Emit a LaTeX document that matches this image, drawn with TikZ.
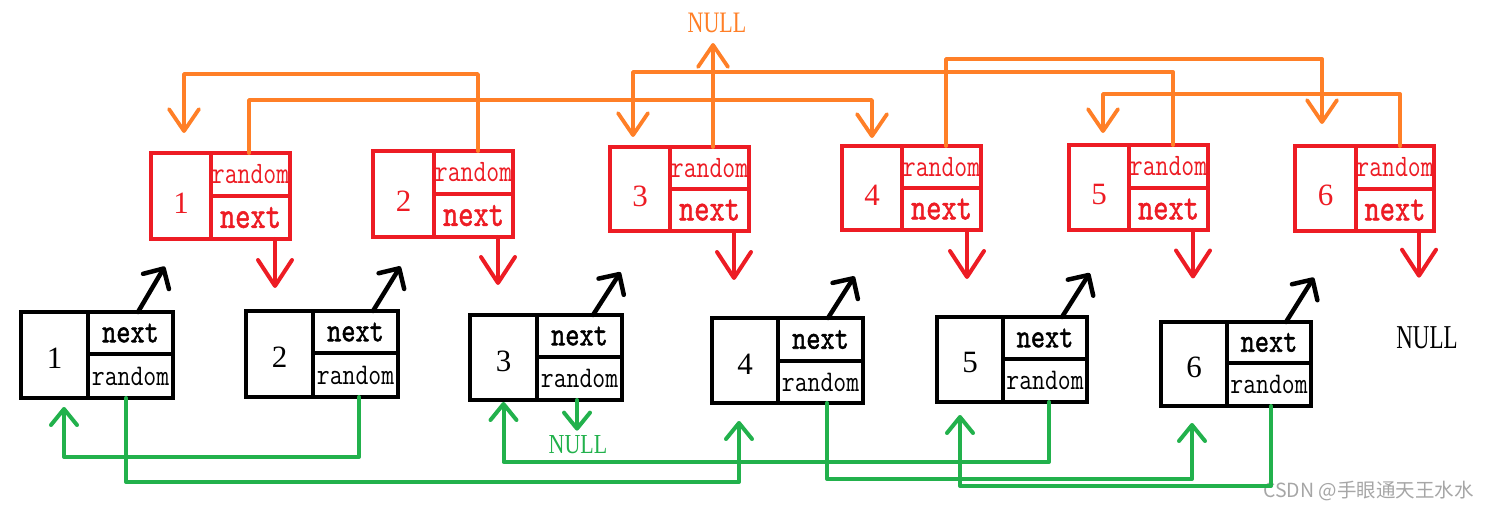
\documentclass[tikz,border=0pt]{standalone}
\usepackage{fontspec}
\usepackage{graphicx}
\usetikzlibrary{arrows.meta}
\newfontfamily\cjkfont{Noto Sans CJK SC}
\newfontfamily\digfont{Liberation Serif}
\newfontfamily\nxfont{lmmono10-regular}[Extension=.otf,FakeBold=1.5]
\definecolor{pred}{RGB}{237,28,36}
\definecolor{porange}{RGB}{255,127,39}
\definecolor{pgreen}{RGB}{34,177,76}
\begin{document}
\begin{tikzpicture}[x=1pt,y=-1pt,
  cell/.style={line width=4.2pt, inner sep=0pt, outer sep=0pt},
  rcell/.style={cell, draw=pred, text=pred},
  bcell/.style={cell, draw=black, text=black},
  rval/.style={font=\digfont\fontsize{31}{31}\selectfont, text height=35pt, text depth=0pt},
  bval/.style={font=\digfont\fontsize{31}{31}\selectfont, text height=27pt, text depth=0pt},
  rndtxt/.style={font=\ttfamily\fontsize{25}{25}\selectfont},
  rnxt/.style={font=\nxfont\fontsize{29}{29}\selectfont},
  bnxt/.style={font=\nxfont\fontsize{27}{27}\selectfont},
  nulltxt/.style={inner sep=0pt, font=\digfont\fontsize{22}{22}\selectfont},
  rarrow/.style={draw=pred, line width=4pt, line cap=round, line join=round, -{Straight Barb[length=26pt,width=34pt,round]}},
  oarrow/.style={draw=porange, line width=3.8pt, line cap=round, line join=round, -{Straight Barb[length=22pt,width=30pt,round]}},
  garrow/.style={draw=pgreen, line width=4pt, line cap=round, line join=round, -{Straight Barb[length=16pt,width=26pt,round]}},
  karrow/.style={draw=black, line width=4.5pt, line cap=round, line join=round, -{Straight Barb[length=15pt,width=30pt,round]}}
]
\useasboundingbox (0,0) rectangle (1488,510);

% ---------- red (copied) nodes ----------
\node[rcell,rval,minimum width=60pt,minimum height=86pt] (r1v) at (181,196) {1};
\node[rcell,rndtxt,minimum width=79pt,minimum height=43pt] (r1r) at (250.5,174.5) {\scalebox{1}[1.25]{random}};
\node[rcell,rnxt,minimum width=79pt,minimum height=43pt] (r1n) at (250.5,217.5) {\scalebox{1}[1.3]{next}};

\node[rcell,rval,minimum width=61pt,minimum height=86pt] (r2v) at (403.5,194) {2};
\node[rcell,rndtxt,minimum width=79pt,minimum height=43pt] (r2r) at (473.5,172.5) {\scalebox{1}[1.25]{random}};
\node[rcell,rnxt,minimum width=79pt,minimum height=43pt] (r2n) at (473.5,215.5) {\scalebox{1}[1.3]{next}};

\node[rcell,rval,minimum width=60pt,minimum height=84pt] (r3v) at (640,189) {3};
\node[rcell,rndtxt,minimum width=79pt,minimum height=42pt] (r3r) at (709.5,168) {\scalebox{1}[1.25]{random}};
\node[rcell,rnxt,minimum width=79pt,minimum height=42pt] (r3n) at (709.5,210) {\scalebox{1}[1.3]{next}};

\node[rcell,rval,minimum width=60pt,minimum height=84pt] (r4v) at (872,188) {4};
\node[rcell,rndtxt,minimum width=79pt,minimum height=42pt] (r4r) at (941.5,167) {\scalebox{1}[1.25]{random}};
\node[rcell,rnxt,minimum width=79pt,minimum height=42pt] (r4n) at (941.5,209) {\scalebox{1}[1.3]{next}};

\node[rcell,rval,minimum width=60pt,minimum height=85pt] (r5v) at (1099,187.5) {5};
\node[rcell,rndtxt,minimum width=79pt,minimum height=43pt] (r5r) at (1168.5,166.5) {\scalebox{1}[1.25]{random}};
\node[rcell,rnxt,minimum width=79pt,minimum height=42pt] (r5n) at (1168.5,209) {\scalebox{1}[1.3]{next}};

\node[rcell,rval,minimum width=61pt,minimum height=85pt] (r6v) at (1325.5,188.5) {6};
\node[rcell,rndtxt,minimum width=78pt,minimum height=43pt] (r6r) at (1395,167.5) {\scalebox{1}[1.25]{random}};
\node[rcell,rnxt,minimum width=78pt,minimum height=42pt] (r6n) at (1395,210) {\scalebox{1}[1.3]{next}};

% ---------- black (original) nodes ----------
\node[bcell,bval,minimum width=67pt,minimum height=86pt] (b1v) at (54.5,355) {1};
\node[bcell,bnxt,minimum width=85pt,minimum height=42pt] (b1n) at (130.5,333) {\scalebox{1}[1.25]{next}};
\node[bcell,rndtxt,minimum width=85pt,minimum height=44pt] (b1r) at (130.5,376) {\scalebox{1}[1.2]{random}};

\node[bcell,bval,minimum width=67pt,minimum height=86pt] (b2v) at (279.5,354) {2};
\node[bcell,bnxt,minimum width=85pt,minimum height=42pt] (b2n) at (355.5,332) {\scalebox{1}[1.25]{next}};
\node[bcell,rndtxt,minimum width=85pt,minimum height=44pt] (b2r) at (355.5,375) {\scalebox{1}[1.2]{random}};

\node[bcell,bval,minimum width=67pt,minimum height=85pt] (b3v) at (503.5,357.5) {3};
\node[bcell,bnxt,minimum width=85pt,minimum height=42pt] (b3n) at (579.5,336) {\scalebox{1}[1.25]{next}};
\node[bcell,rndtxt,minimum width=85pt,minimum height=43pt] (b3r) at (579.5,378.5) {\scalebox{1}[1.2]{random}};

\node[bcell,bval,minimum width=66pt,minimum height=85pt] (b4v) at (745,360.5) {4};
\node[bcell,bnxt,minimum width=85pt,minimum height=43pt] (b4n) at (820.5,339.5) {\scalebox{1}[1.25]{next}};
\node[bcell,rndtxt,minimum width=85pt,minimum height=42pt] (b4r) at (820.5,382) {\scalebox{1}[1.2]{random}};

\node[bcell,bval,minimum width=66pt,minimum height=85pt] (b5v) at (970,359.5) {5};
\node[bcell,bnxt,minimum width=84pt,minimum height=42pt] (b5n) at (1045,338) {\scalebox{1}[1.25]{next}};
\node[bcell,rndtxt,minimum width=84pt,minimum height=43pt] (b5r) at (1045,380.5) {\scalebox{1}[1.2]{random}};

\node[bcell,bval,minimum width=66pt,minimum height=84pt] (b6v) at (1194,364) {6};
\node[bcell,bnxt,minimum width=84pt,minimum height=41pt] (b6n) at (1269,342.5) {\scalebox{1}[1.25]{next}};
\node[bcell,rndtxt,minimum width=84pt,minimum height=43pt] (b6r) at (1269,384.5) {\scalebox{1}[1.2]{random}};

% ---------- NULL labels and watermark ----------
\node[nulltxt,text=porange] (onull) at (717,23) {\scalebox{1}[1.35]{NULL}};
\node[nulltxt,text=pgreen] (gnull) at (578,445) {\scalebox{1}[1.25]{NULL}};
\node[nulltxt,text=black,font=\digfont\fontsize{23}{23}\selectfont] (bnull) at (1427,338) {\scalebox{1}[1.45]{NULL}};
\node[inner sep=0pt,anchor=east,text=black!35,font=\cjkfont\fontsize{19.5}{19.5}\selectfont] (wm) at (1474,491) {CSDN @手眼通天王水水};

% ---------- red next pointers of the copies ----------
\coordinate (rn1) at ([xshift=24.5pt]r1n.south);
\coordinate (rn2) at ([xshift=24.5pt]r2n.south);
\coordinate (rn3) at ([xshift=24.5pt]r3n.south);
\coordinate (rn4) at ([xshift=25.5pt]r4n.south);
\coordinate (rn5) at ([xshift=24.5pt]r5n.south);
\coordinate (rn6) at ([xshift=24pt]r6n.south);
\draw[rarrow, shorten >=23pt] (rn1) -- (rn1 |- b2n.north);
\draw[rarrow, shorten >=30pt] (rn2) -- (rn2 |- b3n.north);
\draw[rarrow, shorten >=38pt] (rn3) -- (rn3 |- b4n.north);
\draw[rarrow, shorten >=38pt] (rn4) -- (rn4 |- b5n.north);
\draw[rarrow, shorten >=43.5pt] (rn5) -- (rn5 |- b6n.north);
\draw[rarrow, shorten >=49pt] (rn6) -- (rn6 |- bnull.north);

% ---------- black next pointers of the originals ----------
\draw[karrow, shorten >=32pt] ([xshift=7.5pt]b1n.north) -- (r1v.south);
\draw[karrow, shorten >=34.5pt] ([xshift=17.5pt]b2n.north) -- ([xshift=15pt]r2v.south);
\draw[karrow, shorten >=49pt] ([xshift=13.5pt]b3n.north) -- ([xshift=7pt]r3v.south);
\draw[karrow, shorten >=55pt] ([xshift=7.5pt]b4n.north) -- ([xshift=12pt]r4v.south);
\draw[karrow, shorten >=51pt] ([xshift=17pt]b5n.north) -- ([xshift=18pt]r5v.south);
\draw[karrow, shorten >=55pt] ([xshift=17pt]b6n.north) -- ([xshift=17.5pt]r6v.south);

% ---------- orange random pointers of the copies ----------
\draw[oarrow, shorten >=8pt] ([xshift=-1.5pt]r1r.north) -- ++(0,-53) -| (r4v.north);
\draw[oarrow, shorten >=20pt] ([xshift=4.5pt]r2r.north) -- ++(0,-77) -| ([xshift=3pt]r1v.north);
\coordinate (or3) at ([xshift=3.5pt]r3r.north);
\draw[oarrow, shorten >=10pt] (or3) -- (or3 |- onull.south);
\draw[oarrow, shorten >=22pt] ([xshift=4.5pt]r4r.north) -- ++(0,-87) -| ([xshift=-3.5pt]r6v.north);
\draw[oarrow, shorten >=10pt] ([xshift=4.5pt]r5r.north) -- ++(0,-73) -| ([xshift=-7pt]r3v.north);
\draw[oarrow, shorten >=12pt] ([xshift=5pt]r6r.north) -- ++(0,-52) -| ([xshift=4pt]r5v.north);

% ---------- green random pointers of the originals ----------
\draw[garrow, shorten >=18pt] ([xshift=-4.5pt]b1r.south) -- ++(0,84) -| ([xshift=-6pt]b4v.south);
\draw[garrow, shorten >=9pt] ([xshift=3.5pt]b2r.south) -- ++(0,60) -| ([xshift=9.5pt]b1v.south);
\coordinate (gr3) at ([xshift=-2.5pt]b3r.south);
\draw[garrow, shorten >=5pt] (gr3) -- (gr3 |- gnull.north);
\draw[garrow, shorten >=17pt] ([xshift=6.5pt]b4r.south) -- ++(0,76) -| ([xshift=-2pt]b6v.south);
\draw[garrow, shorten >=2pt] ([xshift=4pt]b5r.south) -- ++(0,60) -| (b3v.south);
\draw[garrow, shorten >=13pt] ([xshift=2pt]b6r.south) -- ++(0,80) -| ([xshift=-10pt]b5v.south);
\end{tikzpicture}
\end{document}
